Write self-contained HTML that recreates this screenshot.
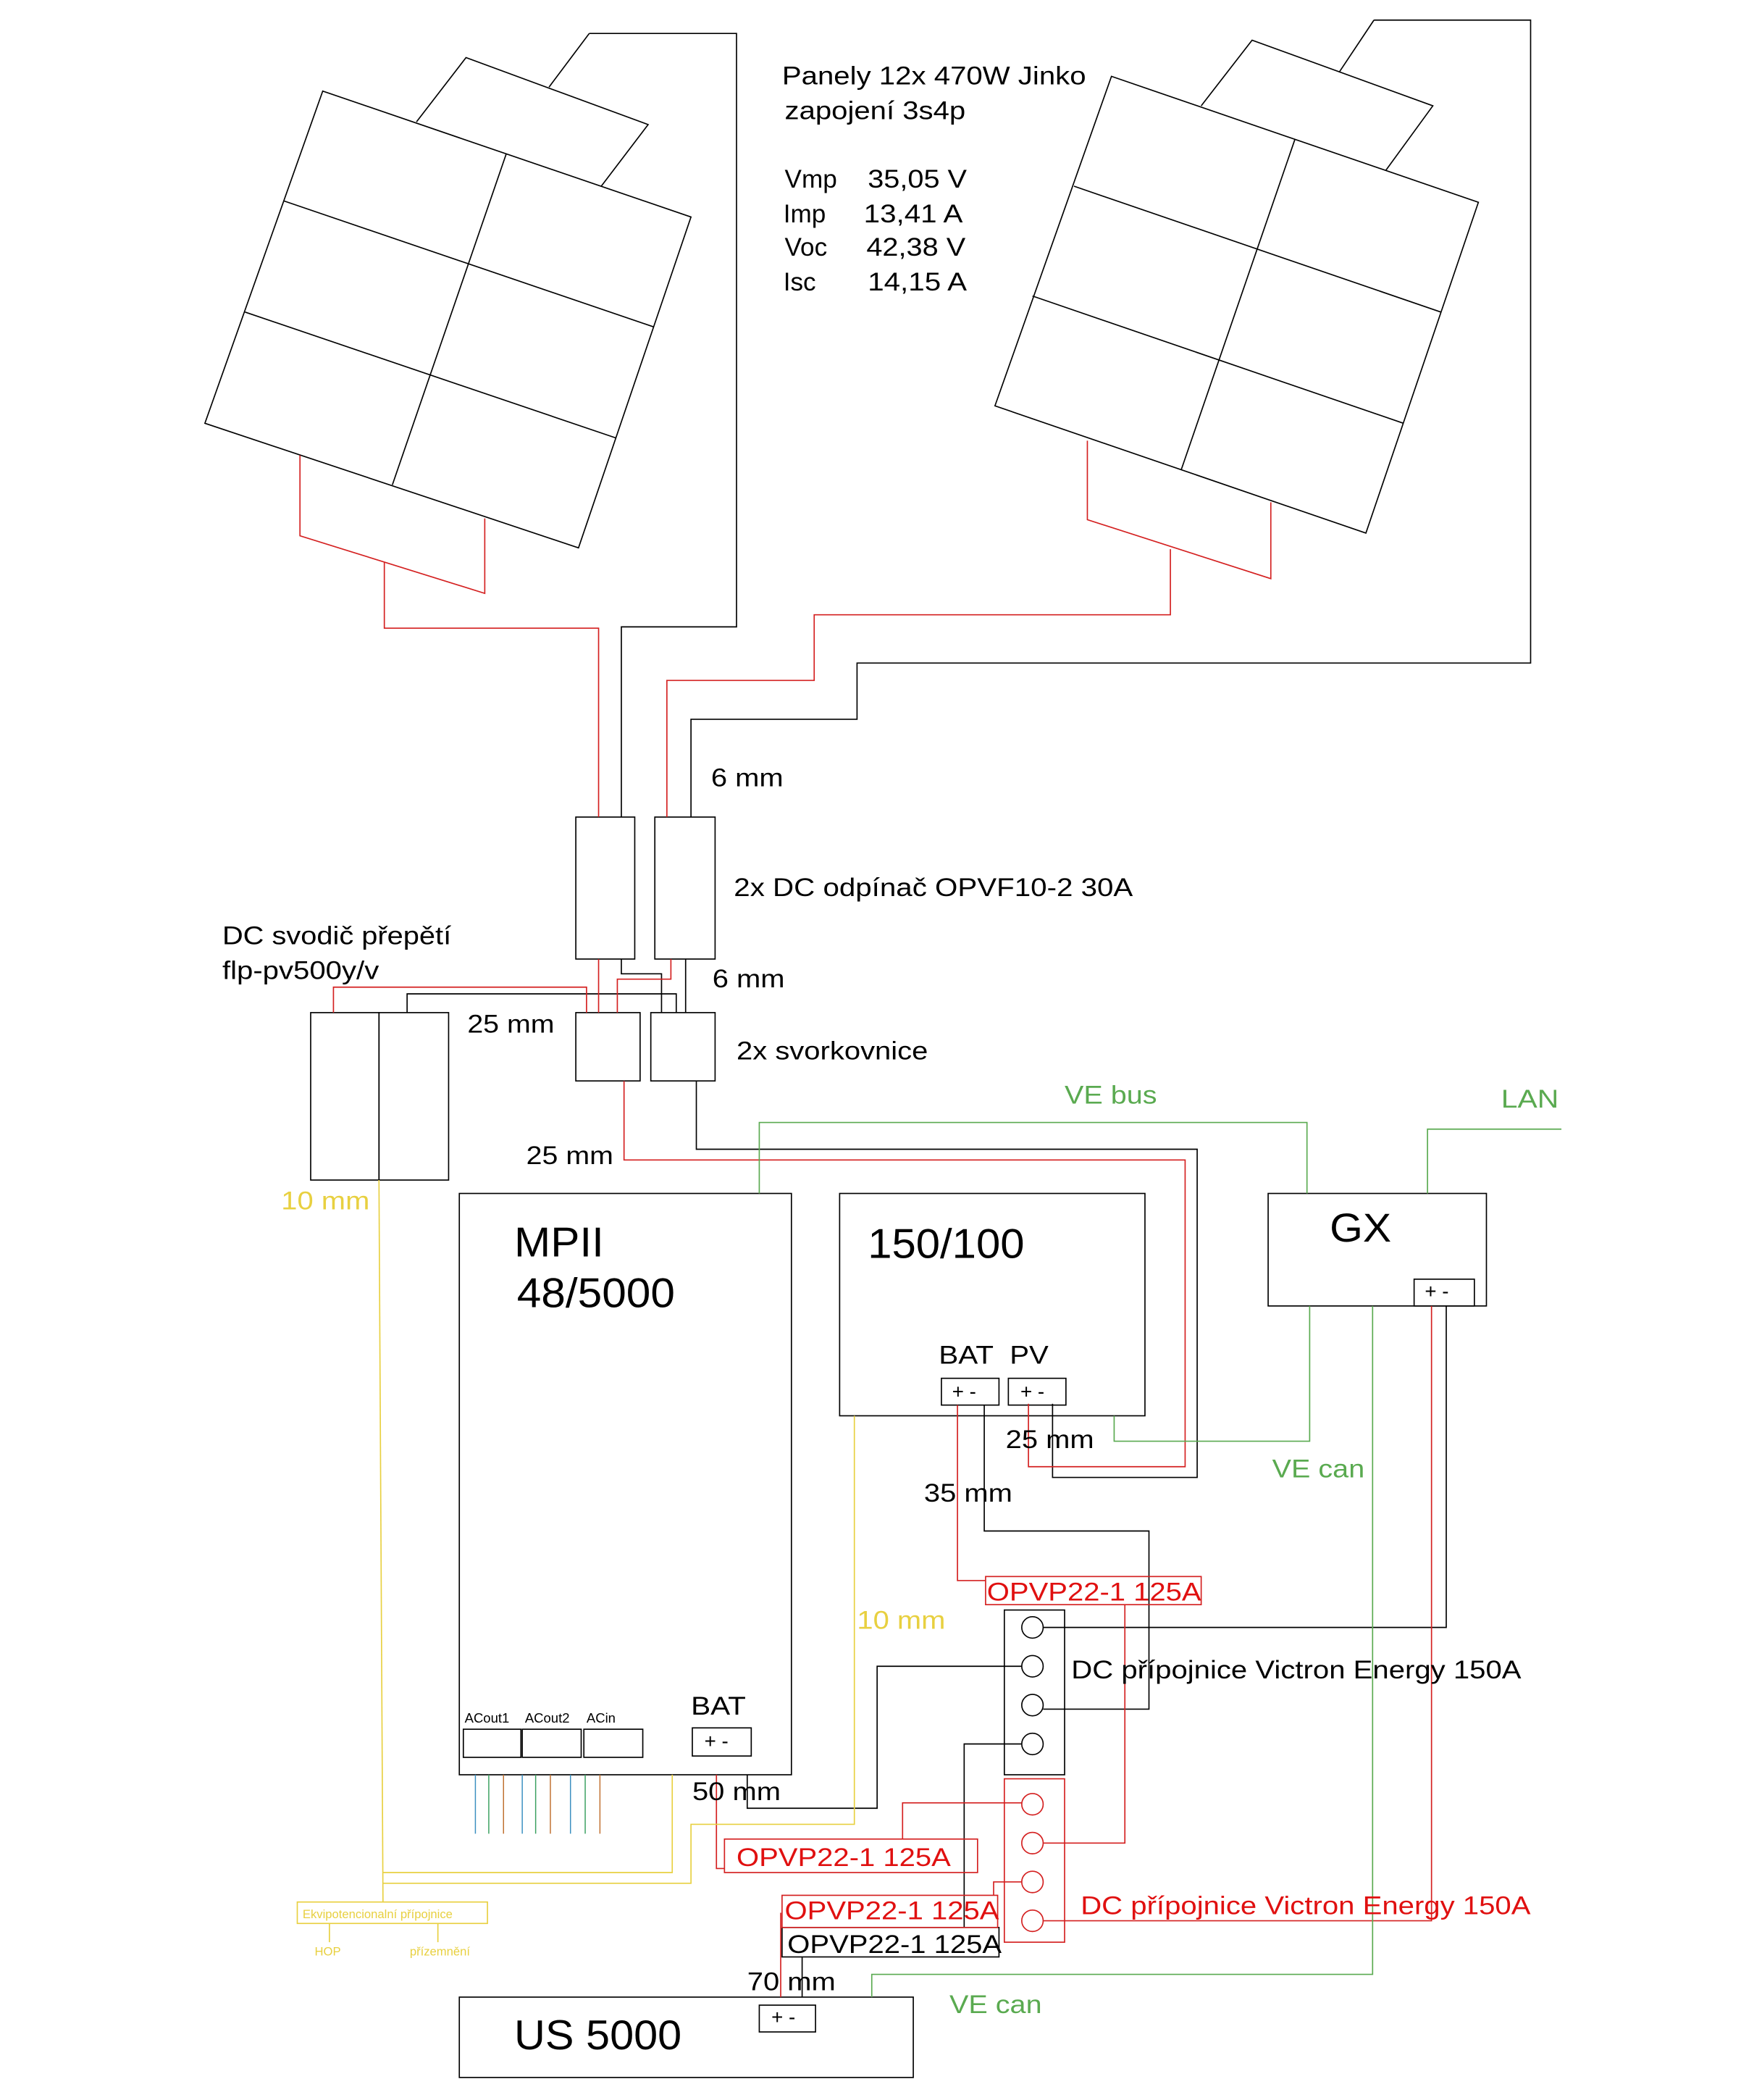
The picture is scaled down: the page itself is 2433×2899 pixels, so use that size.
<!DOCTYPE html>
<html><head><meta charset="utf-8"><style>
html,body{margin:0;padding:0;background:#fff}
svg{display:block}
text{font-family:"Liberation Sans",sans-serif}
</style></head><body>
<svg width="2433" height="2899" viewBox="0 0 1300 1549" xmlns="http://www.w3.org/2000/svg">
<rect width="1300" height="1549" fill="#fff"/>
<g transform="scale(0.988)">
<g fill="none" stroke="#000" stroke-width="0.9">
<line x1="410" y1="65" x2="440" y2="25"/>
<polyline points="311,91 348,43 484,93 449,139"/>
<polygon points="241,68 516,162 432,409 153,316" fill="#fff"/>
<line x1="212" y1="150" x2="488" y2="244"/>
<line x1="183" y1="233" x2="460" y2="327"/>
<line x1="378" y1="115" x2="293" y2="362"/>
<polyline points="440,25 550,25 550,468 464,468 464,610"/>
<line x1="1000" y1="54" x2="1026" y2="15"/>
<polyline points="897,79 935,30 1070,79 1035,127"/>
<polygon points="830,57 1104,151 1020,398 743,303" fill="#fff"/>
<line x1="802" y1="139" x2="1076" y2="233"/>
<line x1="771" y1="221" x2="1048" y2="316"/>
<line x1="967" y1="104" x2="882" y2="351"/>
<polyline points="1026,15 1143,15 1143,495 640,495 640,537 516,537 516,610"/>
<rect x="430" y="610" width="44" height="106"/>
<rect x="489" y="610" width="45" height="106"/>
<rect x="430" y="756" width="48" height="51"/>
<rect x="486" y="756" width="48" height="51"/>
<rect x="232" y="756" width="51" height="125"/>
<rect x="283" y="756" width="52" height="125"/>
<polyline points="464,716 464,727 494,727 494,756"/>
<polyline points="512,716 512,756"/>
<polyline points="304,756 304,742 505,742 505,756"/>
<polyline points="520,807 520,858 894,858 894,1103 786,1103 786,1048"/>
<rect x="343" y="891" width="248" height="434"/>
<rect x="627" y="891" width="228" height="166"/>
<rect x="947" y="891" width="163" height="84"/>
<rect x="343" y="1491" width="339" height="60"/>
<rect x="703" y="1029" width="43" height="20"/>
<rect x="753" y="1029" width="43" height="20"/>
<rect x="1056" y="955" width="45" height="20"/>
<rect x="517" y="1290" width="44" height="21"/>
<rect x="567" y="1497" width="42" height="20"/>
<rect x="346" y="1291" width="43" height="21"/>
<rect x="390" y="1291" width="44" height="21"/>
<rect x="436" y="1291" width="44" height="21"/>
<rect x="750" y="1202" width="45" height="123"/>
<circle cx="771" cy="1215" r="8"/><circle cx="771" cy="1244" r="8"/><circle cx="771" cy="1273" r="8"/><circle cx="771" cy="1302" r="8"/>
<rect x="584" y="1439" width="162" height="22"/>
<polyline points="735,1049 735,1143 858,1143 858,1276 779,1276"/>
<polyline points="1080,975 1080,1215 779,1215"/>
<polyline points="558,1325 558,1350 655,1350 655,1244 763,1244"/>
<polyline points="763,1302 720,1302 720,1439"/>
<polyline points="599,1461 599,1491"/>
</g>
<g fill="none" stroke="#d42020" stroke-width="0.9">
<polyline points="224,340 224,400 362,443 362,387"/>
<polyline points="287,420 287,469 447,469 447,610"/>
<polyline points="812,329 812,388 949,432 949,375"/>
<polyline points="874,410 874,459 608,459 608,508 498,508 498,610"/>
<polyline points="447,716 447,756"/>
<polyline points="501,716 501,731 461,731 461,756"/>
<polyline points="249,756 249,737 438,737 438,756"/>
<polyline points="466,807 466,866 885,866 885,1095 768,1095 768,1048"/>
<polyline points="715,1049 715,1180 736,1180"/>
<rect x="736" y="1177" width="161" height="21"/>
<rect x="750" y="1328" width="45" height="122"/>
<circle cx="771" cy="1347" r="8"/><circle cx="771" cy="1376" r="8"/><circle cx="771" cy="1405" r="8"/><circle cx="771" cy="1434" r="8"/>
<polyline points="840,1198 840,1376 779,1376"/>
<polyline points="1069,975 1069,1434 779,1434"/>
<polyline points="535,1325 535,1395 541,1395"/>
<rect x="541" y="1373" width="189" height="25"/>
<polyline points="674,1373 674,1346 763,1346"/>
<rect x="584" y="1415" width="161" height="24"/>
<polyline points="742,1415 742,1405 763,1405"/>
<polyline points="583,1428 583,1491"/>
</g>
<g fill="none" stroke="#5aaa50" stroke-width="0.9">
<polyline points="567,891 567,838 976,838 976,891"/>
<polyline points="1066,891 1066,843 1166,843"/>
<polyline points="978,975 978,1076 832,1076 832,1057"/>
<polyline points="1025,975 1025,1474 651,1474 651,1491"/>
</g>
<g fill="none" stroke="#e8d040" stroke-width="0.9">
<polyline points="283,881 286,1420"/>
<polyline points="638,1057 638,1362 516,1362 516,1406 286,1406"/>
<polyline points="502,1325 502,1398 286,1398"/>
<rect x="222" y="1420" width="142" height="16"/>
<line x1="246" y1="1436" x2="246" y2="1450"/><line x1="327" y1="1436" x2="327" y2="1450"/>
</g>
<g stroke-width="0.8" fill="none">
<line x1="355" y1="1325" x2="355" y2="1369" stroke="#3a8fc0"/>
<line x1="365" y1="1325" x2="365" y2="1369" stroke="#3aa060"/>
<line x1="376" y1="1325" x2="376" y2="1369" stroke="#c07030"/>
<line x1="390" y1="1325" x2="390" y2="1369" stroke="#3a8fc0"/>
<line x1="400" y1="1325" x2="400" y2="1369" stroke="#3aa060"/>
<line x1="411" y1="1325" x2="411" y2="1369" stroke="#c07030"/>
<line x1="426" y1="1325" x2="426" y2="1369" stroke="#3a8fc0"/>
<line x1="437" y1="1325" x2="437" y2="1369" stroke="#3aa060"/>
<line x1="448" y1="1325" x2="448" y2="1369" stroke="#c07030"/>
</g>
<g font-size="19" fill="#000" lengthAdjust="spacingAndGlyphs">
<text x="584" y="63" textLength="227" lengthAdjust="spacingAndGlyphs">Panely 12x 470W Jinko</text>
<text x="586" y="89" textLength="135" lengthAdjust="spacingAndGlyphs">zapojení 3s4p</text>
<text x="586" y="140">Vmp</text><text x="648" y="140" textLength="74" lengthAdjust="spacingAndGlyphs">35,05 V</text>
<text x="585" y="166">Imp</text><text x="645" y="166" textLength="74" lengthAdjust="spacingAndGlyphs">13,41 A</text>
<text x="586" y="191">Voc</text><text x="647" y="191" textLength="74" lengthAdjust="spacingAndGlyphs">42,38 V</text>
<text x="585" y="217">Isc</text><text x="648" y="217" textLength="74" lengthAdjust="spacingAndGlyphs">14,15 A</text>
<text x="531" y="587" textLength="54" lengthAdjust="spacingAndGlyphs">6 mm</text>
<text x="548" y="669" textLength="298" lengthAdjust="spacingAndGlyphs">2x DC odpínač OPVF10-2 30A</text>
<text x="532" y="737" textLength="54" lengthAdjust="spacingAndGlyphs">6 mm</text>
<text x="166" y="705" textLength="171" lengthAdjust="spacingAndGlyphs">DC svodič přepětí</text>
<text x="166" y="731" textLength="117" lengthAdjust="spacingAndGlyphs">flp-pv500y/v</text>
<text x="349" y="771" textLength="65" lengthAdjust="spacingAndGlyphs">25 mm</text>
<text x="550" y="791" textLength="143" lengthAdjust="spacingAndGlyphs">2x svorkovnice</text>
<text x="393" y="869" textLength="65" lengthAdjust="spacingAndGlyphs">25 mm</text>
<text x="701" y="1018" textLength="41" lengthAdjust="spacingAndGlyphs">BAT</text><text x="754" y="1018" textLength="29" lengthAdjust="spacingAndGlyphs">PV</text>
<text x="751" y="1081" textLength="66" lengthAdjust="spacingAndGlyphs">25 mm</text>
<text x="690" y="1121" textLength="66" lengthAdjust="spacingAndGlyphs">35 mm</text>
<text x="800" y="1253" textLength="336" lengthAdjust="spacingAndGlyphs">DC přípojnice Victron Energy 150A</text>
<text x="516" y="1280" textLength="41" lengthAdjust="spacingAndGlyphs">BAT</text>
<text x="517" y="1344" textLength="66" lengthAdjust="spacingAndGlyphs">50 mm</text>
<text x="558" y="1486" textLength="66" lengthAdjust="spacingAndGlyphs">70 mm</text>
<text x="588" y="1458" textLength="160" lengthAdjust="spacingAndGlyphs">OPVP22-1 125A</text>
<text x="384" y="938" font-size="31" textLength="67" lengthAdjust="spacingAndGlyphs">MPII</text>
<text x="386" y="976" font-size="31" textLength="118" lengthAdjust="spacingAndGlyphs">48/5000</text>
<text x="648" y="939" font-size="31" textLength="117" lengthAdjust="spacingAndGlyphs">150/100</text>
<text x="993" y="927" font-size="30" textLength="46" lengthAdjust="spacingAndGlyphs">GX</text>
<text x="384" y="1530" font-size="31" textLength="125" lengthAdjust="spacingAndGlyphs">US 5000</text>
<text x="711" y="1044" font-size="15">+ -</text>
<text x="762" y="1044" font-size="15">+ -</text>
<text x="1064" y="969" font-size="15">+ -</text>
<text x="526" y="1305" font-size="15">+ -</text>
<text x="576" y="1511" font-size="15">+ -</text>
<text x="347" y="1286" font-size="10">ACout1</text>
<text x="392" y="1286" font-size="10">ACout2</text>
<text x="438" y="1286" font-size="10">ACin</text>
</g>
<g font-size="19" fill="#e01010">
<text x="737" y="1195" textLength="160" lengthAdjust="spacingAndGlyphs">OPVP22-1 125A</text>
<text x="550" y="1393" textLength="160" lengthAdjust="spacingAndGlyphs">OPVP22-1 125A</text>
<text x="586" y="1433" textLength="160" lengthAdjust="spacingAndGlyphs">OPVP22-1 125A</text>
<text x="807" y="1429" textLength="336" lengthAdjust="spacingAndGlyphs">DC přípojnice Victron Energy 150A</text>
</g>
<g font-size="19" fill="#5aaa50">
<text x="795" y="824" textLength="69" lengthAdjust="spacingAndGlyphs">VE bus</text>
<text x="1121" y="827" textLength="43" lengthAdjust="spacingAndGlyphs">LAN</text>
<text x="950" y="1103" textLength="69" lengthAdjust="spacingAndGlyphs">VE can</text>
<text x="709" y="1503" textLength="69" lengthAdjust="spacingAndGlyphs">VE can</text>
</g>
<g fill="#e8d040">
<text x="210" y="903" font-size="19" textLength="66" lengthAdjust="spacingAndGlyphs">10 mm</text>
<text x="640" y="1216" font-size="19" textLength="66" lengthAdjust="spacingAndGlyphs">10 mm</text>
<text x="226" y="1432" font-size="9">Ekvipotencionalní přípojnice</text>
<text x="235" y="1460" font-size="9">HOP</text>
<text x="306" y="1460" font-size="9">přízemnění</text>
</g>
</g>
</svg>
</body></html>
